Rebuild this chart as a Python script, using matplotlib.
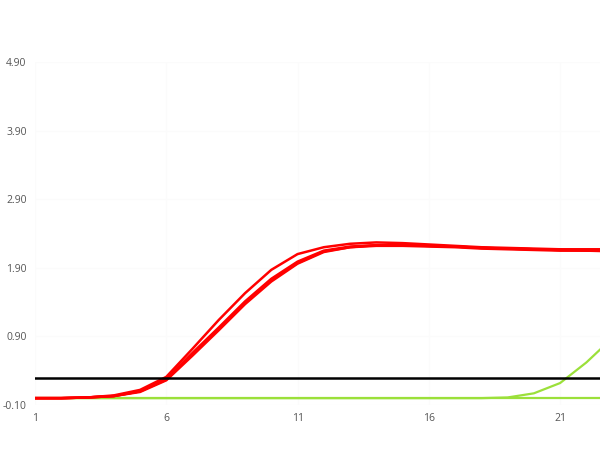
import numpy as np
import matplotlib.pyplot as plt

# ---------- data ----------
cycles = list(range(1, 24))

# red amplification curves (one early, three close together)
red_a = [0.00, 0.00, 0.01, 0.04, 0.12, 0.31, 0.72, 1.14, 1.53, 1.87, 2.10, 2.20, 2.25,
         2.27, 2.26, 2.24, 2.22, 2.20, 2.19, 2.18, 2.17, 2.17, 2.17]
red_b = [0.00, 0.00, 0.01, 0.03, 0.10, 0.28, 0.66, 1.03, 1.41, 1.74, 1.99, 2.15, 2.21,
         2.23, 2.23, 2.22, 2.21, 2.19, 2.18, 2.17, 2.16, 2.16, 2.16]
red_c = [0.00, 0.00, 0.01, 0.03, 0.10, 0.27, 0.64, 1.01, 1.39, 1.72, 1.97, 2.14, 2.20,
         2.22, 2.22, 2.21, 2.20, 2.18, 2.17, 2.16, 2.15, 2.15, 2.14]
red_d = [0.00, 0.00, 0.01, 0.03, 0.09, 0.26, 0.62, 0.99, 1.37, 1.70, 1.96, 2.13, 2.20,
         2.23, 2.23, 2.22, 2.21, 2.19, 2.18, 2.17, 2.16, 2.15, 2.15]

# green curves
green_flat = [0.00] * 23
green_rise = [0.00, 0.00, 0.00, 0.00, 0.00, 0.00, 0.00, 0.00, 0.00, 0.00, 0.00, 0.00, 0.00,
              0.00, 0.00, 0.00, 0.00, 0.00, 0.01, 0.07, 0.22, 0.52, 0.88]

threshold = 0.29

x_ticks = [1, 6, 11, 16, 21]
y_ticks = [-0.10, 0.90, 1.90, 2.90, 3.90, 4.90]
# --------------------------------------------------

fig = plt.figure(figsize=(6, 4.5), dpi=100)
ax = fig.add_axes([35 / 600, 1 - 405 / 450, 1 - 35 / 600, (405 - 62) / 450])

ax.plot(cycles, green_flat, color='#9be03a', lw=1.6, zorder=2)
ax.plot(cycles, green_rise, color='#9be03a', lw=1.6, zorder=2)
for ys in [red_a, red_b, red_c, red_d]:
    ax.plot(cycles, ys, color='#ff0000', lw=1.8, zorder=3)
ax.axhline(threshold, color='black', lw=1.8, zorder=4)

ax.set_xlim(1, 22.52)
ax.set_ylim(-0.10, 4.90)
ax.set_xticks(x_ticks)
ax.set_xticklabels([str(t) for t in x_ticks])
ax.set_yticks(y_ticks)
ax.set_yticklabels([f"{t:.2f}" for t in y_ticks])

ax.grid(True, color='#fbfbfb', lw=0.8)
ax.set_axisbelow(True)
for s in ax.spines.values():
    s.set_visible(False)
ax.tick_params(length=0, labelsize=7.5, labelcolor='#555555', pad=6)
for lab in ax.get_xticklabels() + ax.get_yticklabels():
    lab.set_family('Open Sans')

fig.savefig('out.png', dpi=100)
